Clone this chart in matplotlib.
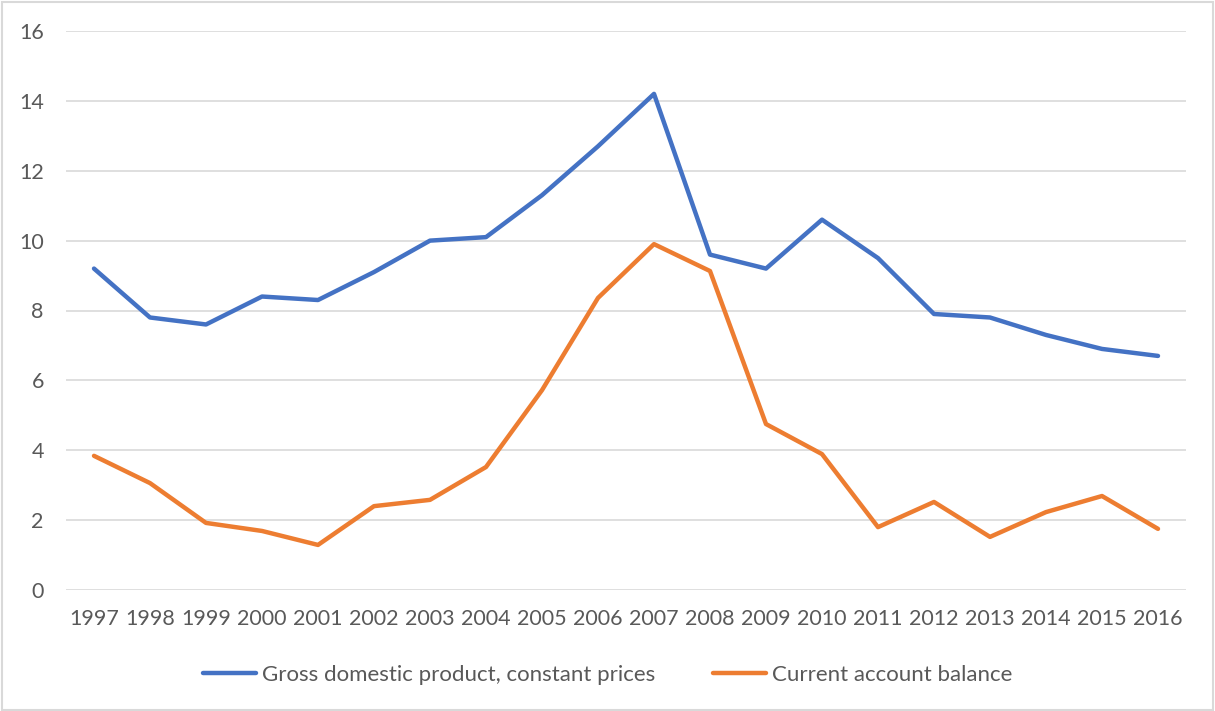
import numpy as np
import matplotlib.pyplot as plt
from matplotlib.patches import Rectangle

years = [str(y) for y in range(1997, 2017)]
gdp = [9.2, 7.8, 7.6, 8.4, 8.3, 9.1, 10.0, 10.1, 11.3, 12.7,
       14.2, 9.6, 9.2, 10.6, 9.5, 7.9, 7.8, 7.3, 6.9, 6.7]
cab = [3.84, 3.06, 1.92, 1.69, 1.29, 2.40, 2.58, 3.52, 5.72, 8.36,
       9.90, 9.13, 4.75, 3.89, 1.80, 2.52, 1.52, 2.23, 2.69, 1.75]

plt.rcParams['font.family'] = ['Lato', 'DejaVu Sans']

fig = plt.figure(figsize=(12.15, 7.11), dpi=100)
ax = fig.add_axes([66/1215, 121/711, 1120/1215, 559/711])

x = np.arange(len(years))
ax.plot(x, gdp, '-', color='#4472C4', linewidth=3.2, solid_capstyle='round',
        label='Gross domestic product, constant prices', zorder=3)
ax.plot(x, cab, '-', color='#ED7D31', linewidth=3.2, solid_capstyle='round',
        label='Current account balance', zorder=3)

ax.set_xlim(-0.5, len(years) - 0.5)
ax.set_ylim(0, 16)
ax.set_yticks(range(0, 17, 2))
ax.set_xticks(x)
ax.set_xticklabels(years)
ax.grid(axis='y', color='#D9D9D9', linewidth=1.2)
ax.set_axisbelow(True)
for s in ax.spines.values():
    s.set_visible(False)
ax.tick_params(length=0, labelsize=15.5, colors='#595959')
ax.tick_params(axis='x', pad=14)
ax.tick_params(axis='y', pad=16)

leg = fig.legend(loc='center', bbox_to_anchor=(0.5, 36/711), ncol=2, frameon=False,
                 fontsize=16, handlelength=2.4, handletextpad=0.25, columnspacing=2.6)
for t in leg.get_texts():
    t.set_color('#595959')

fig.patches.append(Rectangle((0.002, 0.002), 0.996, 0.995, transform=fig.transFigure,
                             fill=False, edgecolor='#D9D9D9', linewidth=1.5))

fig.savefig('out.png', dpi=100)
